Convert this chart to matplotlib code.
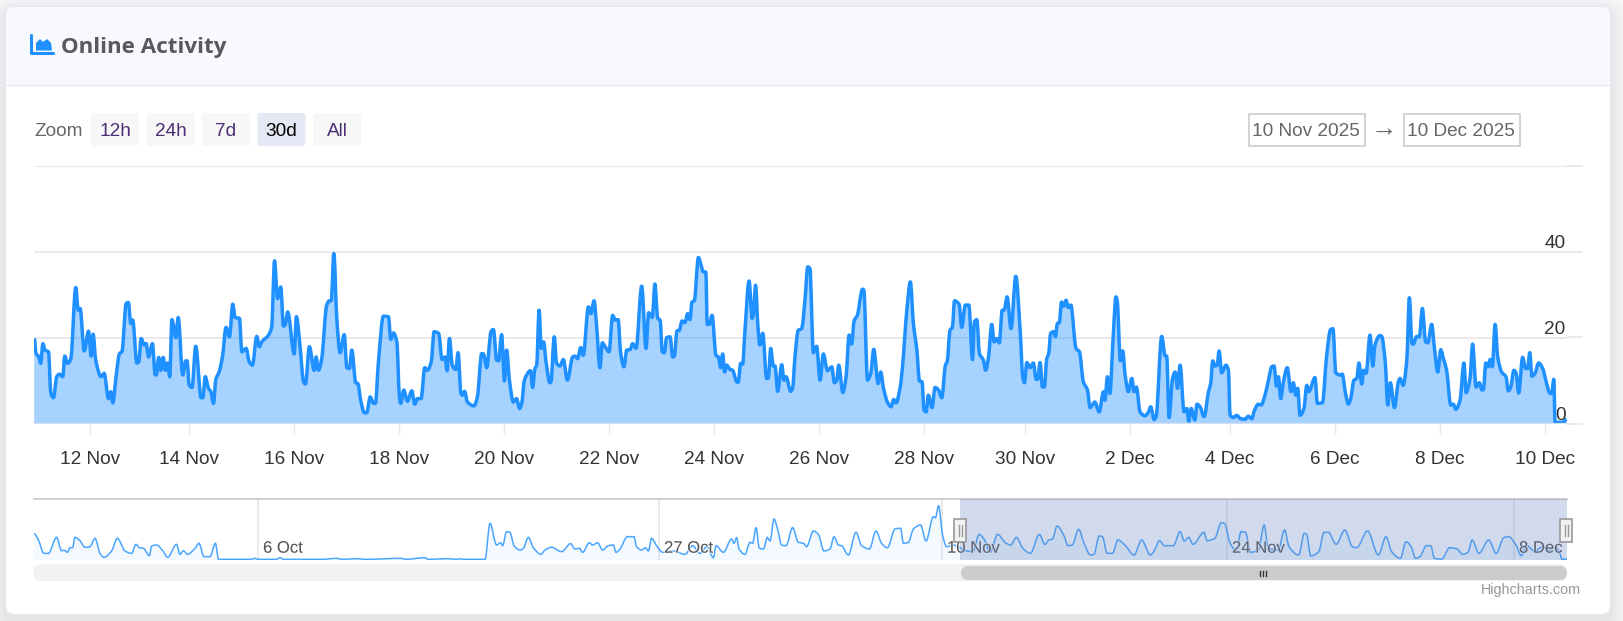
from matplotlib import pyplot
from matplotlib.patches import FancyBboxPatch, PathPatch, Polygon, Rectangle
from matplotlib.path import Path
import matplotlib.patheffects as effects
import matplotlib
import numpy

# Main series, hours since 10 Nov 00:00
hours = [
    22.2, 23.1, 24.2, 25.2, 26.2, 27.2, 28.8, 29.9, 31.1, 32.6, 33.9, 35.4, 36.3, 37.6, 39.1, 41.4, 42.5, 43.4, 45.3, 47.3,
    48.5, 49.4, 50.6, 53.1, 54.5, 56.5, 57.6, 58.5, 60, 61.6, 62.7, 64.7, 65.7, 66.8, 67.7, 69.6, 70.5, 71.6, 73, 73.9,
    75, 76.8, 78.1, 78.7, 79.7, 80.7, 81.8, 82.8, 83.8, 84.8, 85.8, 87.6, 88.7, 90.8, 92.2, 92.8, 93.8, 95.1, 96.8, 99.3,
    100.1, 101.2, 102.7, 103.8, 105, 106.1, 107.6, 109.2, 110.8, 112.4, 113.9, 115, 117, 118.1, 120.1, 121.5, 123, 125, 126.2, 127.3,
    130.4, 131.9, 133.2, 134.6, 136.1, 137.3, 138.1, 139.3, 142.3, 143.3, 145, 146.6, 147.5, 149.3, 151.5, 152.4, 153.5, 155, 157.3, 158.6,
    159.4, 160.6, 162, 163.5, 165.4, 166.6, 167.8, 168.9, 170.7, 171.7, 173, 174.7, 175.8, 177.4, 178.9, 179.8, 181.2, 183.5, 185.8, 186.9,
    188.1, 189.7, 190.9, 191.5, 192.9, 194.6, 196.6, 198, 199.2, 200.9, 202.6, 203.8, 205.6, 206.9, 209, 210.6, 212, 212.9, 214, 215.3,
    216.9, 218, 219.3, 220, 221, 222.3, 225.3, 226.9, 228.9, 229.7, 231.2, 233.2, 234.3, 235.8, 236.7, 238.1, 239.4, 240.4, 241.7, 243.5,
    245, 246.4, 247.4, 248.6, 251.5, 252.4, 253.5, 254.3, 255.4, 256.4, 257.5, 258.6, 260.4, 260.9, 262.4, 263.5, 265.1, 266.6, 268.5, 270.9,
    272, 273.2, 274.6, 275.8, 278.2, 279.4, 280.8, 282, 283.5, 284.6, 285.9, 287.7, 289.4, 290.6, 291.9, 293.1, 294.6, 295.9, 297.4, 298.6,
    300.2, 302.8, 304.8, 306, 307.7, 308.9, 310.2, 311.3, 312.3, 313.3, 314.3, 315.9, 317.1, 317.9, 319.1, 320.2, 321.4, 322.8, 324, 325.1,
    326, 327.1, 329, 330, 331.3, 332.4, 333.1, 334, 335.3, 337.1, 338.2, 339.3, 340.2, 341.1, 342, 343.6, 344.8, 346.7, 347.4, 348.5,
    349.4, 350.5, 352.4, 353.8, 354.4, 355.4, 356.5, 357.4, 358.7, 360.5, 361.3, 362.4, 363.6, 364.4, 365.6, 367.5, 368.5, 369.5, 371.6, 372.5,
    373.6, 375.1, 376.7, 378.2, 379.5, 380.5, 382.1, 383.6, 385.2, 386.7, 388.6, 390.6, 391.8, 392.9, 393.8, 395.7, 397.2, 398.6, 399.8, 400.9,
    402.4, 404.8, 405.4, 407.1, 408.6, 410, 412, 413.2, 414.5, 416.3, 418, 419.2, 420.3, 422.2, 423.4, 425.2, 426.9, 428.3, 429.9, 431.1,
    432.3, 433.2, 434.2, 435.2, 436.9, 438.3, 439.9, 441.4, 443.1, 443.9, 445.2, 446.3, 447.3, 449.4, 450.6, 452.3, 453.9, 455.6, 456.5, 457.6,
    458.8, 460.6, 461.7, 463, 464.5, 465.6, 466.8, 468, 469.3, 470.2, 471.6, 473.4, 475.6, 477.6, 478.8, 479.6, 480.7, 482.2, 483.7, 485,
    485.7, 486.8, 487.9, 488.8, 489.9, 490.8, 491.7, 493, 493.9, 494.8, 495.7, 496.7, 497.7, 498.8, 499.9, 501, 503.4, 505, 506.8, 508.7,
    509.9, 512.1, 514.1, 516.1, 516.8, 517.9, 519.1, 520.4, 521.9, 522.5, 523.9, 525, 526, 527.6, 529.2, 530.2, 531.3, 533, 535.3, 536.9,
    537.9, 539.5, 540.4, 543, 544.6, 545.3, 546.4, 548, 549.2, 550.3, 551.5, 553.3, 554.6, 555.5, 556.6, 558.3, 559.3, 560.7, 562.6, 564.6,
    565.6, 566.6, 567.6, 568.6, 569.5, 570.7, 572.7, 573.8, 574.6, 576.1, 577.6, 579.5, 581.5, 583, 584.6, 585.8, 587.6, 588.9, 590.7, 592.3,
    593.8, 594.9, 596, 596.9, 598, 599.2, 601, 602.7, 603.8, 604.9, 605.8, 606.9, 608.7, 610, 610.9, 613.8, 614.9, 617.2, 619.2, 621,
    622.1, 623.4, 625.4, 626.4, 627.7, 629.2, 630.3, 631.8, 633.1, 634.1, 635.4, 636.3, 637.4, 639.2, 640.5, 641.5, 643.8, 644.6, 646.3, 647.4,
    648.6, 650.5, 652.3, 653.1, 654.5, 656.2, 657.4, 658.6, 659.2, 660.8, 662, 663.4, 664.9, 665.9, 667.7, 668.9, 670.5, 671.9, 673.1, 674.6,
    676.5, 677.7, 678.8, 680.8, 682.6, 683.6, 685.4, 686.6, 688.2, 689.7, 690.9, 691.6, 692.7, 693.7, 694.7, 695.7, 697, 698.2, 700, 702,
    703.1, 704.2, 705.7, 706.7, 707.9, 709.7, 711.1, 712, 713, 714, 715.4, 717.1, 719, 720.5, 722.4, 723.1, 724.1, 724.7, 728.5, 730,
]
users = [
    19.8, 16.2, 15.7, 14, 18.6, 17.1, 16.7, 7, 6, 10.9, 11.5, 10.9, 15.7, 14, 15.1, 31.7, 26.4, 26.8, 16.9, 21.5,
    15.7, 20.8, 14.8, 10.9, 11.7, 5.8, 7.4, 4.8, 10.9, 16.3, 16.7, 28, 28.2, 23.3, 24.1, 14.1, 14.4, 19.8, 18.3, 18.6,
    15.5, 18.6, 11.3, 11.4, 15.4, 12.4, 15.4, 12.4, 14.1, 10.9, 24.2, 20, 24.7, 11.3, 14.6, 14.6, 8.9, 8.4, 18, 6,
    6, 10.9, 8.2, 7.4, 4.7, 10.3, 12, 15.7, 22.4, 20.2, 27.8, 24.7, 24.5, 16.7, 17.5, 14.4, 13.6, 20.3, 17.9, 19,
    20.6, 22.5, 37.9, 29.1, 31.8, 22.7, 22.9, 26, 16.2, 24.9, 17.9, 9.7, 9.2, 17.9, 12.4, 15.5, 12.4, 15.1, 27.6, 28.6,
    28.6, 39.6, 24.1, 16.5, 20.7, 13, 12.8, 17.1, 9.5, 9.3, 5.4, 2.5, 2.5, 6.2, 4.7, 4.7, 14.4, 25, 24.9, 19.6,
    21.1, 19, 6.2, 4.7, 7.8, 5.2, 7.6, 4.5, 5.8, 5.8, 13, 12.4, 14.4, 21.4, 21, 14.9, 15.5, 12.3, 19.8, 13.6,
    12.6, 16.5, 7, 6.6, 7.5, 5, 4.1, 6.2, 16.3, 16.2, 13, 21.4, 21.9, 14.8, 14.6, 20.7, 9.9, 17.1, 10.1, 5,
    5.8, 3.5, 4.7, 10.1, 12.3, 8.4, 12.8, 13.6, 26.4, 17.5, 19, 14.4, 9.5, 9.7, 20.2, 14, 13.4, 14.9, 10.1, 15.5,
    15.7, 15.1, 17.7, 15.9, 27.2, 25.6, 28.6, 22.5, 13, 18.8, 17.9, 16.7, 25.2, 24.1, 24.2, 16.3, 13.2, 17.1, 17.2, 18.6,
    17.5, 32, 17.5, 25.8, 24.7, 32.5, 24.5, 24.1, 16.7, 16.5, 20, 20.2, 15.5, 15.7, 21.6, 21.7, 23.9, 23.5, 25.6, 24.2,
    28.3, 28.6, 38.7, 37.3, 35.3, 35.3, 23.1, 23.1, 25.2, 15.9, 15.5, 13, 16.2, 12, 13.6, 12.6, 12.4, 9.7, 9.6, 14,
    13.8, 21.7, 33.2, 24.5, 25.6, 32.2, 22.5, 18.3, 21, 10.5, 10.6, 17.5, 13.4, 13.4, 7.5, 13.7, 10.1, 10.9, 7.5, 8.2,
    15.5, 21.7, 22.1, 28.7, 36.5, 36.1, 16.5, 18, 10.1, 16.2, 12.3, 13.2, 9.5, 10.1, 13.6, 7.2, 10.9, 20.6, 18.5, 23.9,
    25.2, 31.3, 31.1, 10.1, 11.7, 17.3, 9.3, 12, 8.2, 5, 3.9, 5.6, 4.8, 8.5, 14, 26, 33, 23.3, 17.1, 9.9,
    9.7, 3.1, 2.7, 6.6, 3.7, 8.4, 7.8, 6, 13.6, 14.4, 21.7, 22.4, 28.6, 27.8, 22.4, 27.6, 27.6, 14.9, 23.7, 24.2,
    16.3, 14.8, 12.4, 15.5, 23.1, 19, 19.8, 18.8, 26.4, 26.4, 29.5, 22.1, 34.3, 21.7, 10.9, 9.5, 14.2, 13, 14.1, 10.3,
    10.3, 14.2, 8.5, 8.5, 15.1, 16.3, 21, 21.4, 20.2, 23.3, 23.5, 28.3, 27.3, 28.7, 27, 27.6, 17.5, 16.7, 9.7, 7.8,
    3.7, 5, 2.7, 7.4, 5.4, 10.9, 7, 18.6, 29.5, 28.3, 14.6, 16.9, 11.7, 7.4, 10.5, 7.4, 8.5, 2.7, 1.8, 2.7,
    3.9, 0.9, 1.6, 20.3, 15.7, 15.7, 1.4, 10.5, 12, 8.2, 13.6, 2.7, 3.5, 0.5, 3.5, 0.8, 4.5, 3.9, 1.6, 7.4,
    9.3, 14.6, 13.4, 13.6, 16.9, 11.8, 13.6, 12.4, 1.9, 1.4, 1.9, 1.1, 1, 1.7, 1.1, 3, 4.5, 4.3, 6.6, 10.1,
    13.2, 13.4, 8.7, 10.9, 5.8, 9.7, 13, 7.4, 9.5, 6.6, 8.2, 1.9, 3.5, 8.9, 7.4, 10.7, 4.7, 4.8, 15.9, 21.9,
    22.1, 11.8, 11.3, 11.5, 7.6, 4.5, 5.8, 10.1, 10.5, 14.1, 9.2, 12.4, 11.7, 20.6, 13.4, 18.3, 20.5, 20.3, 14, 4.3,
    9.5, 3.7, 9.7, 10.5, 8.9, 14.8, 29.3, 18.6, 18.5, 20.3, 20.2, 26.8, 19, 18.8, 23.1, 17.9, 12, 17.2, 15.1, 12.4,
    4.3, 4.5, 3.3, 5.4, 14.1, 7.2, 10.5, 18.5, 8.5, 9.5, 7.8, 7.9, 14.1, 13.2, 14.9, 13.2, 23.1, 15.5, 12, 10.9,
    7.6, 8.5, 12.4, 11.7, 7.1, 15.4, 12.8, 12.8, 16.5, 11, 11.7, 14.1, 12.8, 9.9, 7, 7, 10.3, 0.3, 0.3, 1,
]
yTicks = [0, 20, 40, 60]
tickHours = [48, 93.7, 142.2, 190.7, 239.2, 287.7, 336.2, 384.7, 433.2, 479.9, 528.4, 574.6, 623.1, 671.6, 720.1]
tickLabels = ["12 Nov", "14 Nov", "16 Nov", "18 Nov", "20 Nov", "22 Nov", "24 Nov", "26 Nov", "28 Nov", "30 Nov",
              "2 Dec", "4 Dec", "6 Dec", "8 Dec", "10 Dec"]

# Navigator series, days since the first point
navigatorDays = [
    0, .22, .5, .72, 1.13, 1.38, 1.52, 1.67, 1.8, 1.93, 2.05, 2.3, 2.55, 2.8, 3.05, 3.3, 3.5, 3.88, 4.17, 4.55,
    4.88, 5.1, 5.27, 5.47, 5.77, 5.88, 6.13, 6.47, 6.68, 7.13, 7.3, 7.47, 7.68, 8.05, 8.25, 8.5, 8.8, 9.07, 9.23, 10.88,
    11, 11.22, 12.13, 12.3, 12.47, 14.38, 15.13, 15.38, 16.22, 16.47, 18.38, 18.55, 19.55, 19.72, 20.7, 21.1, 21.3, 21.47, 22.55, 22.8,
    23.13, 23.33, 23.43, 23.63, 23.8, 24, 24.3, 24.47, 24.72, 24.97, 25.35, 25.55, 25.88, 26.38, 26.83, 27.05, 27.27, 27.43, 27.77, 27.93,
    28.18, 28.43, 28.72, 28.97, 29.1, 29.3, 29.67, 30, 30.13, 30.38, 30.58, 30.72, 30.88, 31.13, 31.43, 31.97, 32.55, 32.93, 33.3, 33.63,
    33.97, 34.1, 34.47, 34.88, 35, 35.13, 35.25, 35.55, 35.8, 35.93, 36.1, 36.27, 36.47, 36.67, 36.8, 37, 37.17, 37.38, 37.6, 37.93,
    38.22, 38.47, 38.63, 38.97, 39.22, 39.5, 39.8, 40, 40.22, 40.38, 40.72, 41.1, 41.38, 41.77, 42.1, 42.38, 42.67, 43.05, 43.33, 43.47,
    43.72, 43.97, 44.33, 44.6, 44.97, 45.07, 45.23, 45.43, 45.63, 45.95, 46.65, 46.94, 47.26, 47.53, 47.81, 48.18, 48.57, 48.83, 49.12, 49.44,
    49.82, 50.27, 50.54, 50.75, 50.93, 51.15, 51.52, 51.69, 51.91, 52.24, 52.5, 52.83, 53, 53.26, 53.42, 53.66, 53.92, 54.2, 54.57, 55,
    55.38, 55.82, 56.03, 56.27, 56.53, 56.97, 57.3, 57.52, 57.73, 57.95, 58.5, 58.65, 59.04, 59.37, 59.52, 59.81, 60.13, 60.35, 60.57, 60.83,
    61.22, 61.51, 61.71, 62.21, 62.53, 62.75, 63.23, 63.52, 63.63, 63.84, 64.24, 64.5, 64.72, 65.11, 65.54, 65.92, 66.13, 66.68, 67.22, 67.6,
    67.88, 68.32, 68.6, 68.86, 69.08, 69.3, 69.62, 69.84, 70.02, 70.39, 70.78, 71.15, 71.43, 71.7, 71.91, 72.24, 72.74, 73.11, 73.49, 73.73,
    74.1, 74.36, 74.64, 75.02, 75.45, 75.73, 76.06, 76.32, 76.39, 76.65,
]
navigatorUsers = [
    27.4, 20.8, 6.9, 6.9, 23.6, 9.7, 10, 8, 12.8, 12.8, 23.6, 20.1, 13.2, 13.9, 22.6, 6.9, 2.8, 9.4, 22.6, 9.4,
    6.9, 16.3, 12.8, 12.2, 4.5, 14.6, 15.6, 8.7, 2.8, 16.3, 5.9, 9.7, 5.9, 12.2, 17.4, 3.5, 3.5, 17.4, .7, .7,
    1.7, .7, .7, 2.4, .7, .7, 1.7, .7, 1.4, .7, 1.7, .7, 2.4, .7, 1.4, .7, 1.2, .7, .7, 38.2,
    15.6, 18, 14.9, 29.5, 28.8, 14.9, 10.4, 12.2, 23.6, 12.8, 5.9, 10.4, 13.2, 8.7, 17, 11.5, 12.2, 8, 18, 15.6,
    18, 10.4, 14.9, 15.6, 8, 11.5, 24.3, 24.3, 13.9, 10.4, 12.8, 9.4, 22.6, 14.9, 8, 9.4, 5.9, 14.9, 6.9, 13.9,
    2.4, 14.9, 8, 21.9, 17.4, 23.3, 11.5, 5.9, 18.4, 17.4, 33.7, 12.2, 11.5, 23.6, 19.8, 42.7, 33, 15.6, 14.9, 33.7,
    18.4, 17.4, 13.9, 30.2, 26.7, 9.4, 11.5, 24.3, 15.6, 14.9, 5.2, 28.8, 14.9, 11.5, 30.2, 17.4, 12.8, 32.3, 33, 17.4,
    18.4, 32.3, 36.5, 19.8, 45.1, 44, 56.6, 26, 13.9, 15.6, 9.4, 8.7, 26.7, 20.8, 8, 26.7, 18, 15.6, 23.6, 12.2,
    6.9, 26.7, 16.3, 20.8, 21.9, 35.4, 24.3, 14.9, 15.6, 31.9, 17.4, 5.2, 5.9, 25, 24.3, 6.9, 6.9, 20.8, 14.9, 5.2,
    20.8, 5.2, 10.4, 20.1, 14.9, 14.9, 29.5, 19.8, 23.6, 16.3, 28.8, 20.1, 22.6, 38.9, 38.2, 17.4, 9.4, 29.5, 28.8, 8,
    10.4, 36.5, 12.2, 10.4, 31.3, 13.9, 5.2, 27.8, 26.7, 4.2, 8.7, 28.8, 28.8, 16.3, 31.3, 13.9, 12.8, 30.2, 5.2, 24.3,
    8.7, 1.7, 19.1, 13.9, 1.7, 3.5, 14.9, 14.9, 1.7, 1, 12.8, 11.5, 5.9, 8, 20.8, 6.9, 20.8, 6.9, 23.3, 24.3,
    15.6, 4.5, 14.9, 9.4, 13.9, 9.4, 13.9, 5.2, .7, .7,
]
navigatorTickDays = [11.2, 31.25, 45.4, 59.65, 74]
navigatorLabels = ["6 Oct", "27 Oct", "10 Nov", "24 Nov", "8 Dec"]
selectedStartDay = 46.3

# Toolbar texts
zoomButtons = ["12h", "24h", "7d", "30d", "All"]
rangeLabels = ["10 Nov 2025", "10 Dec 2025"]

matplotlib.rcParams["font.family"] = ["Liberation Sans", "DejaVu Sans"]

width = 1624
height = 621
blue = "#1e90ff"

figure = pyplot.figure(figsize=(width / 100, height / 100), dpi=100, facecolor="#f8f8fb")


def addAxes(left, top, right, bottom, order):
    return figure.add_axes([left / width, 1 - bottom / height, (right - left) / width, (bottom - top) / height], zorder=order)


def roundedBox(axis, x0, y0, x1, y1, radius, color, **kwargs):
    axis.add_patch(FancyBboxPatch((x0 + radius, y0 + radius), x1 - x0 - 2 * radius, y1 - y0 - 2 * radius,
                                  boxstyle=f"round,pad={radius},rounding_size={radius}", facecolor=color,
                                  edgecolor="none", **kwargs))


# Spline through the points, flat at each peak and trough like the chart library draws it
def splinePath(xValues, yValues, closed=False):
    x = numpy.array(xValues, dtype=float)
    y = numpy.array(yValues, dtype=float)
    steps = numpy.diff(x)
    slopes = numpy.diff(y) / steps
    tangents = numpy.zeros(len(x))
    rising = slopes[:-1] * slopes[1:] > 0
    tangents[1:-1][rising] = 2 * slopes[:-1][rising] * slopes[1:][rising] / (slopes[:-1][rising] + slopes[1:][rising])

    vertices = [(x[0], y[0])]
    codes = [Path.MOVETO]
    for i, step in enumerate(steps):
        vertices.append((x[i] + step / 3, y[i] + tangents[i] * step / 3))
        vertices.append((x[i + 1] - step / 3, y[i + 1] - tangents[i + 1] * step / 3))
        vertices.append((x[i + 1], y[i + 1]))
        codes += [Path.CURVE4] * 3

    if closed:
        vertices += [(x[-1], 0), (x[0], 0), (x[0], y[0])]
        codes += [Path.LINETO, Path.LINETO, Path.CLOSEPOLY]

    return Path(vertices, codes)


# Page furniture in pixel coordinates
page = addAxes(0, 0, width, height, 0)
page.set_xlim(0, width)
page.set_ylim(height, 0)
page.axis("off")

for spread in range(18, 0, -2):
    roundedBox(page, 6 - spread, 7 - spread + 7, 1610 + spread, 614 + spread + 7, 8 + spread, "#8a8ea8", alpha=0.014)
roundedBox(page, 5, 6, 1611, 615, 9, "#e6e8f0")
roundedBox(page, 6, 7, 1610, 614, 8, "white")
roundedBox(page, 6, 7, 1610, 40, 8, "#f8f9fd")
page.add_patch(Rectangle((6, 25), 1604, 59, facecolor="#f8f9fd", edgecolor="none"))
page.plot([6, 1610], [84.5, 84.5], color="#e3e6f0", linewidth=1)

# Title and its icon
page.plot([31.5, 31.5, 53], [35, 53, 53], color=blue, linewidth=2.2, solid_capstyle="round", solid_joinstyle="round")
page.add_patch(Polygon([(36, 50.5), (36, 43), (40, 39), (43, 42), (47, 39), (51, 43), (52, 50.5)], facecolor=blue, edgecolor="none"))
page.text(61, 48, "Online Activity", fontsize=16.1, fontweight="bold", family="Open Sans", color="#58595f", va="center")

# Zoom buttons and date range inputs
page.text(34, 132, "Zoom", fontsize=13.7, color="#666666", va="center")
for i, label in enumerate(zoomButtons):
    x0 = 91 + i * 55.5
    active = label == "30d"
    roundedBox(page, x0, 113, x0 + 48, 146, 3, "#e6e9f5" if active else "#f7f7f7")
    page.text(x0 + 24, 132, label, fontsize=13.7, color="black" if active else "#4b2e73", ha="center", va="center")

for x0, label in zip([1249, 1404], rangeLabels):
    page.add_patch(Rectangle((x0, 113.5), 116, 32, facecolor="white", edgecolor="#cccccc", linewidth=1.2))
    page.text(x0 + 57, 131, label, fontsize=13.7, color="#666666", ha="center", va="center")
page.text(1384, 129, "→", fontsize=19, color="#666666", ha="center", va="center")

# Main chart
axis = addAxes(34, 166, 1567, 423.5, 2)
axis.patch.set_alpha(0)
axis.set_xlim(22.1, 730.2)
axis.set_ylim(yTicks[0], yTicks[-1])
axis.add_patch(PathPatch(splinePath(hours, users, closed=True), facecolor=blue, edgecolor="none", alpha=0.4, zorder=3))
axis.add_patch(PathPatch(splinePath(hours, users), facecolor="none", edgecolor=blue, linewidth=2.5, joinstyle="round", zorder=4))
for value in yTicks:
    axis.axhline(value, color="#e6e6e6", linewidth=1.2, zorder=2)
axis.axhline(0, color="#d5e0f0", linewidth=1.6, zorder=5)
for value in yTicks[:-1]:
    axis.annotate(str(value), (1, value), xycoords=("axes fraction", "data"), xytext=(-1, -0.4), textcoords="offset points",
                  ha="right", va="bottom", fontsize=13.7, color="#333333", zorder=6, clip_on=False)
for side in axis.spines.values():
    side.set_visible(False)
axis.set_yticks([])
axis.set_xticks(tickHours, tickLabels)
axis.tick_params(axis="x", length=7, width=1, color="#e6e6e6", labelsize=13.7, labelcolor="#333333", pad=13)

# Stubs of the gridlines past the plot edge
for y in [166, 251.7, 337, 424]:
    page.plot([1567, 1582], [y, y], color="#e6e6e6", linewidth=1.2)

# Navigator
navigator = addAxes(34, 499, 1567, 560, 2)
navigator.set_xlim(0, navigatorDays[-1])
navigator.set_ylim(0, 63.5)
navigator.add_patch(PathPatch(splinePath(navigatorDays, navigatorUsers, closed=True), facecolor=blue, edgecolor="none", alpha=0.05, zorder=2))
navigator.add_patch(PathPatch(splinePath(navigatorDays, navigatorUsers), facecolor="none", edgecolor=blue, alpha=0.8, linewidth=1.1, zorder=3))
for day, label in zip(navigatorTickDays, navigatorLabels):
    navigator.axvline(day, color="#e6e6e6", linewidth=1.2, zorder=1)
    navigator.annotate(label, (day, 0), xytext=(3.6, 8.5), textcoords="offset points", fontsize=12, color="#555555",
                       va="center", zorder=4, annotation_clip=False,
                       path_effects=[effects.withStroke(linewidth=1.5, foreground="white", alpha=0.7)])
navigator.axvspan(selectedStartDay, navigatorDays[-1], color="#6685c2", alpha=0.3, linewidth=0, zorder=5)
for name, side in navigator.spines.items():
    side.set_visible(name == "top")
navigator.spines["top"].set_color("#cccccc")
navigator.spines["top"].set_linewidth(1.3)
navigator.set_xticks([])
navigator.set_yticks([])

# Scrollbar, handles and credits on top
front = addAxes(0, 0, width, height, 3)
front.patch.set_alpha(0)
front.set_xlim(0, width)
front.set_ylim(height, 0)
front.axis("off")

roundedBox(front, 33, 564, 1567, 581, 8, "#f2f2f2")
roundedBox(front, 961, 566, 1567, 580, 7, "#cccccc")
for x in [1260.5, 1263.5, 1266.5]:
    front.plot([x, x], [570.5, 575.5], color="#333333", linewidth=1)

for x in [960.5, 1566.5]:
    front.add_patch(Rectangle((x - 6, 519), 12, 23, facecolor="#f2f2f2", edgecolor="#999999", linewidth=1.2))
    for offset in [-1.5, 1.5]:
        front.plot([x + offset, x + offset], [525, 536], color="#999999", linewidth=1)

front.text(1581, 590, "Highcharts.com", fontsize=10.4, color="#999999", ha="right", va="center")

pyplot.savefig("out.png", dpi=100, facecolor=figure.get_facecolor())
